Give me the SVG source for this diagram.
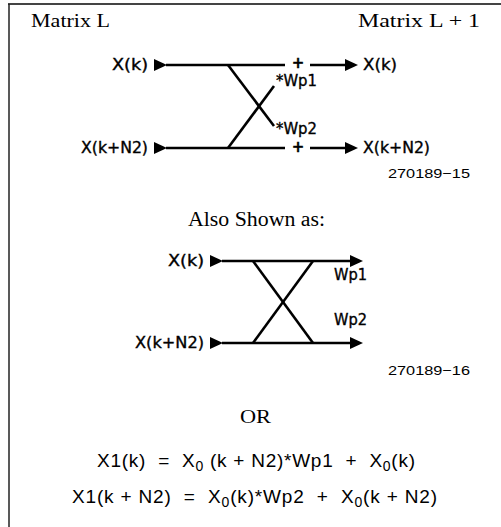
<svg xmlns="http://www.w3.org/2000/svg" width="501" height="527" viewBox="0 0 501 527">
<defs>
<style>
.serif{font-family:"Liberation Serif","Times New Roman",serif;fill:#000}
.lab{font-family:"DejaVu Sans","Liberation Sans",sans-serif;font-size:15px;fill:#000;stroke:#000;stroke-width:0.35}
.num{font-family:"Liberation Sans",Arial,sans-serif;font-size:13px;fill:#000}
.eq{font-family:"Liberation Sans",Arial,sans-serif;font-size:19px;fill:#000}
.ln{stroke:#000;stroke-width:2.6;fill:none}
.tri{fill:#000}
</style>
</defs>
<rect width="501" height="527" fill="#fff"/>
<g id="frame">
<line x1="8" y1="4" x2="501" y2="4" stroke="#444" stroke-width="2"/>
<line x1="9" y1="4" x2="9" y2="527" stroke="#222" stroke-width="1.5"/>
</g>
<g id="titles">
<text class="serif" x="31" y="27" font-size="19" textLength="79" lengthAdjust="spacingAndGlyphs">Matrix L</text>
<text class="serif" x="358" y="27" font-size="19" textLength="122" lengthAdjust="spacingAndGlyphs">Matrix L + 1</text>
</g>
<g id="top-inputs">
<text class="lab" x="148" y="70" text-anchor="end" textLength="36" lengthAdjust="spacingAndGlyphs">X(k)</text>
<text class="lab" x="148" y="153" text-anchor="end" textLength="67" lengthAdjust="spacingAndGlyphs">X(k+N2)</text>
<polygon class="tri" points="154,59 154,71 167,65"/>
<polygon class="tri" points="154,142 154,154 167,148"/>
</g>
<g id="top-outputs">
<text class="lab" x="363" y="70" textLength="34" lengthAdjust="spacingAndGlyphs">X(k)</text>
<text class="lab" x="363" y="153" textLength="67" lengthAdjust="spacingAndGlyphs">X(k+N2)</text>
<text class="lab" x="276" y="86" textLength="41" lengthAdjust="spacingAndGlyphs">*Wp1</text>
<text class="lab" x="276" y="134" textLength="41" lengthAdjust="spacingAndGlyphs">*Wp2</text>
<text class="lab" x="298" y="68" font-size="11" text-anchor="middle" font-weight="bold">+</text>
<text class="lab" x="298" y="152" font-size="11" text-anchor="middle" font-weight="bold">+</text>
</g>
<g id="top-connectors">
<line class="ln" x1="166" y1="65" x2="285" y2="65"/>
<line class="ln" x1="166" y1="148" x2="285" y2="148"/>
<line class="ln" x1="228" y1="65" x2="274" y2="126"/>
<line class="ln" x1="228" y1="148" x2="274" y2="86"/>
<line class="ln" x1="310" y1="65" x2="348" y2="65"/>
<polygon class="tri" points="345,59 358,65 345,71"/>
<line class="ln" x1="310" y1="148" x2="348" y2="148"/>
<polygon class="tri" points="345,142 358,148 345,154"/>
</g>
<text class="num" x="388" y="178" textLength="82" lengthAdjust="spacingAndGlyphs">270189−15</text>
<text class="serif" x="188" y="226" font-size="20" textLength="137" lengthAdjust="spacingAndGlyphs">Also Shown as:</text>
<g id="bottom-inputs">
<text class="lab" x="204" y="266" text-anchor="end" textLength="36" lengthAdjust="spacingAndGlyphs">X(k)</text>
<text class="lab" x="204" y="348" text-anchor="end" textLength="69" lengthAdjust="spacingAndGlyphs">X(k+N2)</text>
<polygon class="tri" points="210,255 210,267 223,261"/>
<polygon class="tri" points="210,337 210,349 223,343"/>
</g>
<g id="bottom-outputs">
<text class="lab" x="334" y="280" textLength="33" lengthAdjust="spacingAndGlyphs">Wp1</text>
<text class="lab" x="334" y="325" textLength="33" lengthAdjust="spacingAndGlyphs">Wp2</text>
</g>
<g id="bottom-connectors">
<line class="ln" x1="222" y1="261" x2="352" y2="261"/>
<polygon class="tri" points="350,255 363,261 350,267"/>
<line class="ln" x1="222" y1="343" x2="352" y2="343"/>
<polygon class="tri" points="350,337 363,343 350,349"/>
<line class="ln" x1="253" y1="261" x2="313" y2="343"/>
<line class="ln" x1="313" y1="261" x2="253" y2="343"/>
</g>
<text class="num" x="388" y="375" textLength="82" lengthAdjust="spacingAndGlyphs">270189−16</text>
<text class="serif" x="240" y="423" font-size="19" textLength="31" lengthAdjust="spacingAndGlyphs">OR</text>
<g id="equations">
<text class="eq" x="97" y="467" xml:space="preserve" textLength="318" lengthAdjust="spacing">X1(k)  =  X<tspan font-size="14" dy="4">0</tspan><tspan dy="-4"> (k + N2)*Wp1  +  X</tspan><tspan font-size="14" dy="4">0</tspan><tspan dy="-4">(k)</tspan></text>
<text class="eq" x="72" y="503" xml:space="preserve" textLength="365" lengthAdjust="spacing">X1(k + N2)  =  X<tspan font-size="14" dy="4">0</tspan><tspan dy="-4">(k)*Wp2  +  X</tspan><tspan font-size="14" dy="4">0</tspan><tspan dy="-4">(k + N2)</tspan></text>
</g>
</svg>
